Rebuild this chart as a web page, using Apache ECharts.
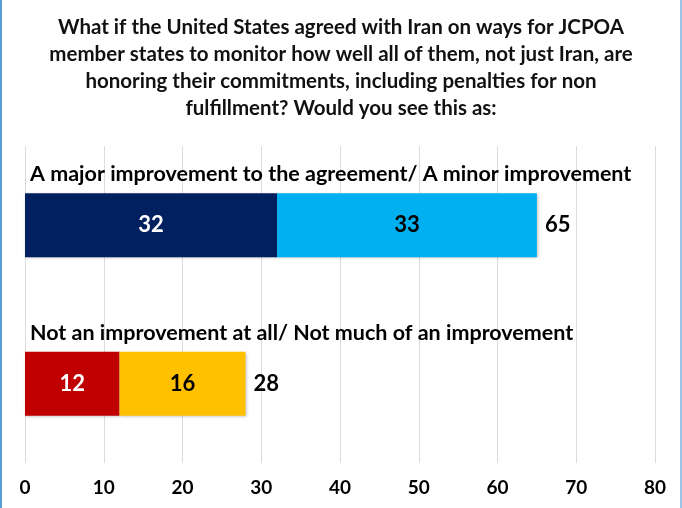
<!DOCTYPE html>
<html>
<head>
<meta charset="utf-8">
<script src="https://cdn.jsdelivr.net/npm/echarts@6/dist/echarts.min.js"></script>
<style>
  html, body { margin: 0; padding: 0; background: #fff; }
  #chart {
    width: 678px; height: 508px;
    border-left: 2px solid #5b9bd5;
    border-right: 2px solid #9dc3e6;
  }
</style>
</head>
<body>
<div id="chart"></div>
<script>
  const categories = [
    'A major improvement to the agreement/ A minor improvement',
    'Not an improvement at all/ Not much of an improvement'
  ];
  const strongValues = [32, 12];
  const mildValues = [33, 16];
  const totals = [65, 28];
  const xTicks = [0, 10, 20, 30, 40, 50, 60, 70, 80];

  const strongColors = ['#002060', '#C00000'];
  const mildColors = ['#00B0F0', '#FFC000'];
  const strongLabelColors = ['#ffffff', '#ffffff'];
  const mildLabelColors = ['#000000', '#000000'];

  const font = 'Lato, "Open Sans", sans-serif';
  const chart = echarts.init(document.getElementById('chart'));

  const shadow = {
    shadowColor: 'rgba(0,0,0,0.25)',
    shadowBlur: 3,
    shadowOffsetX: 1,
    shadowOffsetY: 1
  };

  const option = {
    animation: false,
    title: {
      text: 'What if the United States agreed with Iran on ways for JCPOA\nmember states to monitor how well all of them, not just Iran, are\nhonoring their commitments, including penalties for non\nfulfillment? Would you see this as:',
      left: 'center',
      top: 9,
      textStyle: {
        fontFamily: font,
        fontWeight: 'bold',
        fontSize: 20.5,
        lineHeight: 27,
        color: '#111',
        align: 'center'
      }
    },
    grid: { left: 23, right: 25, top: 146, bottom: 45 },
    xAxis: {
      type: 'value',
      min: xTicks[0],
      max: xTicks[xTicks.length - 1],
      interval: 10,
      axisLine: { show: false },
      axisTick: { show: false },
      splitLine: { lineStyle: { color: '#dcdcdc' } },
      axisLabel: {
        margin: 15,
        fontFamily: font,
        fontWeight: 'bold',
        fontSize: 19,
        color: '#000'
      }
    },
    yAxis: {
      type: 'category',
      inverse: true,
      data: categories,
      axisLine: { show: false },
      axisTick: { show: false },
      axisLabel: {
        inside: true,
        margin: 5,
        align: 'left',
        verticalAlign: 'bottom',
        padding: [0, 0, 40, 0],
        fontFamily: font,
        fontWeight: 'bold',
        fontSize: 21.5,
        color: '#000'
      }
    },
    series: [
      {
        type: 'bar',
        stack: 'total',
        barWidth: 64,
        data: strongValues.map((v, i) => ({
          value: v,
          itemStyle: Object.assign({ color: strongColors[i] }, shadow),
          label: { color: strongLabelColors[i] }
        })),
        label: {
          show: true,
          position: 'inside',
          fontFamily: font,
          fontWeight: 'bold',
          fontSize: 22
        }
      },
      {
        type: 'bar',
        stack: 'total',
        barWidth: 64,
        data: mildValues.map((v, i) => ({
          value: v,
          itemStyle: Object.assign({ color: mildColors[i] }, shadow),
          label: { color: mildLabelColors[i] }
        })),
        label: {
          show: true,
          position: 'inside',
          fontFamily: font,
          fontWeight: 'bold',
          fontSize: 22
        }
      },
      {
        type: 'bar',
        stack: 'total',
        barWidth: 64,
        data: totals.map(() => 0),
        itemStyle: { color: 'transparent' },
        label: {
          show: true,
          position: 'right',
          distance: 8,
          formatter: (p) => totals[p.dataIndex],
          fontFamily: font,
          fontWeight: 'bold',
          fontSize: 22,
          color: '#000'
        }
      }
    ]
  };

  chart.setOption(option);
</script>
</body>
</html>
